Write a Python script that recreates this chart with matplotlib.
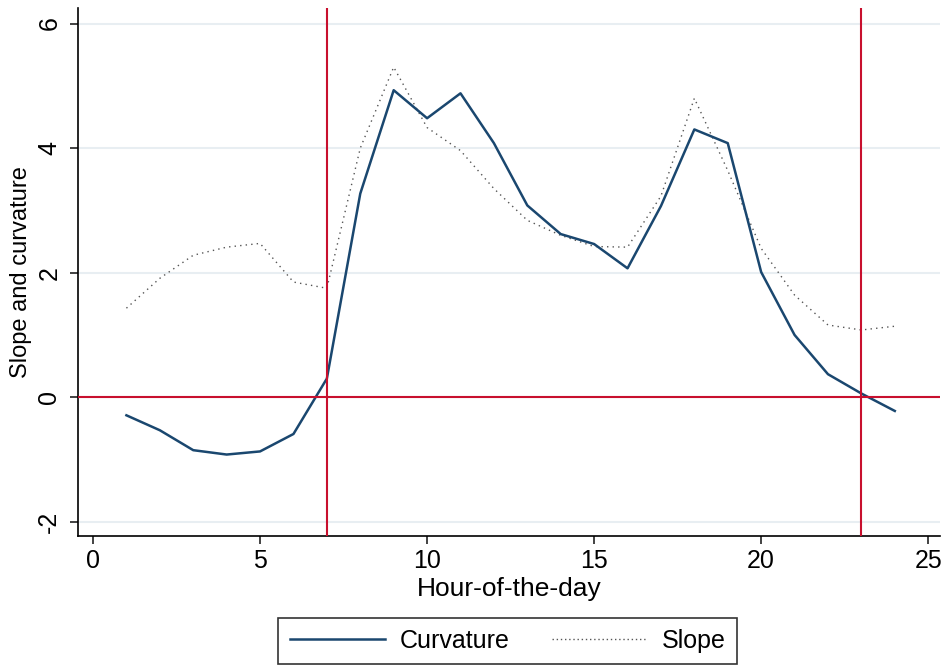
import matplotlib
matplotlib.use("Agg")
import matplotlib.pyplot as plt
from matplotlib.lines import Line2D

hours = list(range(1, 25))
curvature = [-0.29, -0.53, -0.85, -0.92, -0.87, -0.59, 0.30, 3.27, 4.93, 4.48, 4.88, 4.08,
             3.08, 2.62, 2.46, 2.07, 3.07, 4.30, 4.08, 2.01, 1.00, 0.37, 0.06, -0.22]
slope = [1.43, 1.91, 2.28, 2.41, 2.47, 1.85, 1.75, 4.00, 5.30, 4.33, 3.96, 3.35,
         2.84, 2.60, 2.42, 2.41, 3.23, 4.80, 3.64, 2.39, 1.64, 1.16, 1.08, 1.14]
xticks = [0, 5, 10, 15, 20, 25]
yticks = [-2, 0, 2, 4, 6]
vlines = [7, 23]

plt.rcParams['font.family'] = ['Liberation Sans', 'DejaVu Sans']

fig = plt.figure(figsize=(9.43, 6.66), dpi=100)
ax = fig.add_axes([0.0827, 0.195, 0.914, 0.793])

navy = '#1a476f'
red = '#c8102e'

for y in yticks:
    ax.axhline(y, color='#e8eef2', lw=1.5, zorder=0)

ax.plot(hours, slope, color='#555555', lw=1.0, ls=(0, (1, 3)), zorder=2)
ax.plot(hours, curvature, color=navy, lw=1.8, zorder=3)

ax.axhline(0, color=red, lw=1.5, zorder=4)
for v in vlines:
    ax.axvline(v, color=red, lw=1.5, zorder=4)

ax.set_xlim(-0.45, 25.35)
ax.set_ylim(-2.23, 6.25)
ax.set_xticks(xticks)
ax.set_yticks(yticks)
ax.set_yticklabels([str(t) for t in yticks], rotation=90, va='center')
ax.tick_params(axis='both', labelsize=18, length=6, width=1.2, color='#222222')
ax.tick_params(axis='y', pad=6)
ax.spines['top'].set_visible(False)
ax.spines['right'].set_visible(False)
ax.spines['left'].set_linewidth(1.2)
ax.spines['bottom'].set_linewidth(1.2)
ax.set_xlabel('Hour-of-the-day', fontsize=19, labelpad=3)
ax.set_ylabel('Slope and curvature', fontsize=17, labelpad=4)

handles = [Line2D([0], [0], color=navy, lw=1.8),
           Line2D([0], [0], color='#555555', lw=1.0, ls=(0, (1, 2)))]
leg = fig.legend(handles, ['Curvature', 'Slope'], loc='center',
                 bbox_to_anchor=(0.5385, 0.0375), ncol=2, fontsize=18,
                 frameon=True, fancybox=False, edgecolor='black',
                 handlelength=3.8, columnspacing=1.7, handletextpad=0.6,
                 borderpad=0.45, borderaxespad=0)
leg.get_frame().set_linewidth(1.2)

fig.savefig('out.png', dpi=100)
